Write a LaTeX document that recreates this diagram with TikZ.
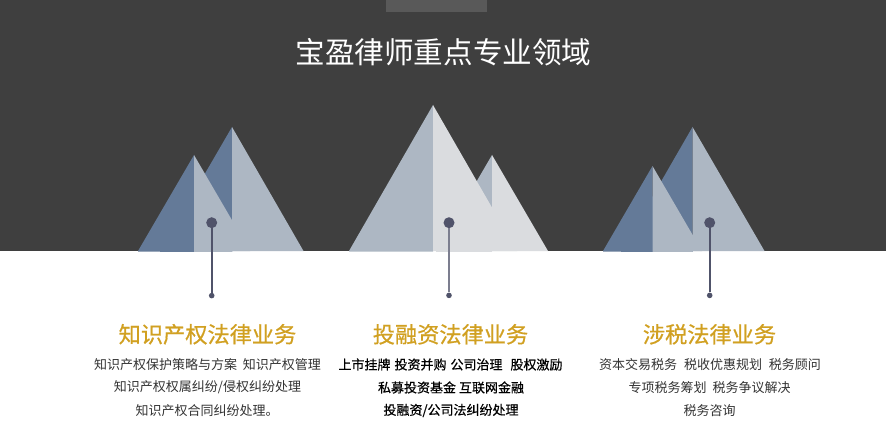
\documentclass[tikz,border=0pt]{standalone}
\usepackage{fontspec}
\setmainfont{Noto Sans CJK SC}
\newfontfamily\boldish[FakeBold=0.6]{Noto Sans CJK SC}
\definecolor{bgdark}{HTML}{3F3F3F}
\definecolor{tabgrey}{HTML}{595959}
\definecolor{slate}{HTML}{647A98}
\definecolor{steel}{HTML}{ADB7C3}
\definecolor{pale}{HTML}{DADCDF}
\definecolor{pin}{HTML}{50536A}
\definecolor{gold}{HTML}{D1A021}
\definecolor{bodygrey}{HTML}{333333}
\tikzset{
  x=1pt,y=-1pt,
  face/.style={fill=#1,draw=none},
  pinhead/.style={circle,fill=pin,inner sep=0pt,minimum size=11pt},
  pinfoot/.style={circle,fill=pin,inner sep=0pt,minimum size=5.6pt},
  pinline/.style={draw=pin,line width=1.7pt},
  heading/.style={text=gold,font=\fontsize{22.2}{22}\selectfont\boldish,inner sep=0pt,anchor=center},
  bodyline/.style={text=bodygrey,font=\fontsize{13}{13}\selectfont,inner sep=0pt,anchor=center},
  boldline/.style={text=black,font=\fontsize{13}{13}\selectfont\boldish,inner sep=0pt,anchor=center},
}
\begin{document}
\begin{tikzpicture}
\useasboundingbox (0,0) rectangle (886,441);
\fill[white] (0,0) rectangle (886,441);
\fill[bgdark] (0,0) rectangle (886,251);
\fill[tabgrey] (386,0) rectangle (487,12);
\node[text=white,font=\fontsize{29.6}{30}\selectfont,inner sep=0pt] (title) at (443.5,52.5) {宝盈律师重点专业领域};

% left mountains
\fill[face=slate] (160,251.8) -- (160,251) -- (232,127) -- (232,251.8) -- cycle;
\fill[face=steel] (232,127) -- (303.5,251) -- (232,251) -- cycle;
\fill[face=slate] (138,251.5) -- (138,251) -- (194,155) -- (194,251.5) -- cycle;
\fill[face=steel] (194,155) -- (250,251) -- (232,251) -- (232,251.8) -- (194,251.8) -- cycle;

% middle mountains
\fill[face=steel] (436,251) -- (492,155) -- (492,251) -- cycle;
\fill[face=pale] (492,155) -- (548,251) -- (492,251) -- cycle;
\fill[face=pale] (436,251) rectangle (492,251.8);
\fill[face=steel] (349,251.6) -- (349,251) -- (433,105) -- (433,251.6) -- cycle;
\fill[face=pale] (433,105) -- (517,251) -- (433,251) -- cycle;

% right mountains
\fill[face=slate] (621,251.8) -- (621,251) -- (692.5,127) -- (692.5,251.8) -- cycle;
\fill[face=steel] (692.5,127) -- (764.5,251) -- (692.5,251) -- cycle;
\fill[face=slate] (603,251.6) -- (603,251) -- (652.5,166) -- (652.5,251.6) -- cycle;
\fill[face=steel] (652.5,166) -- (702,251) -- (692.5,251) -- (692.5,251.8) -- (652.5,251.8) -- cycle;

% pins
\node[pinhead] (h1) at (211.7,222.7) {};
\node[pinfoot] (f1) at (211.7,295.6) {};
\draw[pinline] (h1) -- (f1);
\node[pinhead] (h2) at (449,222.7) {};
\node[pinfoot] (f2) at (449,295.4) {};
\draw[pinline,draw=pin!75!white] (h2) -- (f2);
\node[pinhead] (h3) at (709.7,222.7) {};
\node[pinfoot] (f3) at (709.7,295.4) {};
\draw[pinline] (h3) -- (f3);

% text columns
\node[heading] (t1) at (207.5,334.3) {知识产权法律业务};
\node[bodyline] (a1) at (207.5,364.5) {知识产权保护策略与方案\hspace{6pt}知识产权管理};
\node[bodyline] (a2) at (207.5,387.5) {知识产权权属纠纷/侵权纠纷处理};
\node[bodyline] (a3) at (207,410.5) {知识产权合同纠纷处理。};

\node[heading] (t2) at (450.5,334.3) {投融资法律业务};
\node[boldline] (b1) at (450.5,364.5) {上市挂牌\hspace{4pt}投资并购\hspace{4pt}公司治理\hspace{8pt}股权激励};
\node[boldline] (b2) at (451,387.5) {私募投资基金\hspace{3pt}互联网金融};
\node[boldline] (b3) at (451,410.5) {投融资/公司法纠纷处理};

\node[heading] (t3) at (709.5,334.3) {涉税法律业务};
\node[bodyline] (c1) at (710,364.5) {资本交易税务\hspace{7pt}税收优惠规划\hspace{7pt}税务顾问};
\node[bodyline] (c2) at (709.5,387.5) {专项税务筹划\hspace{6pt}税务争议解决};
\node[bodyline] (c3) at (709.5,410.5) {税务咨询};
\end{tikzpicture}
\end{document}
